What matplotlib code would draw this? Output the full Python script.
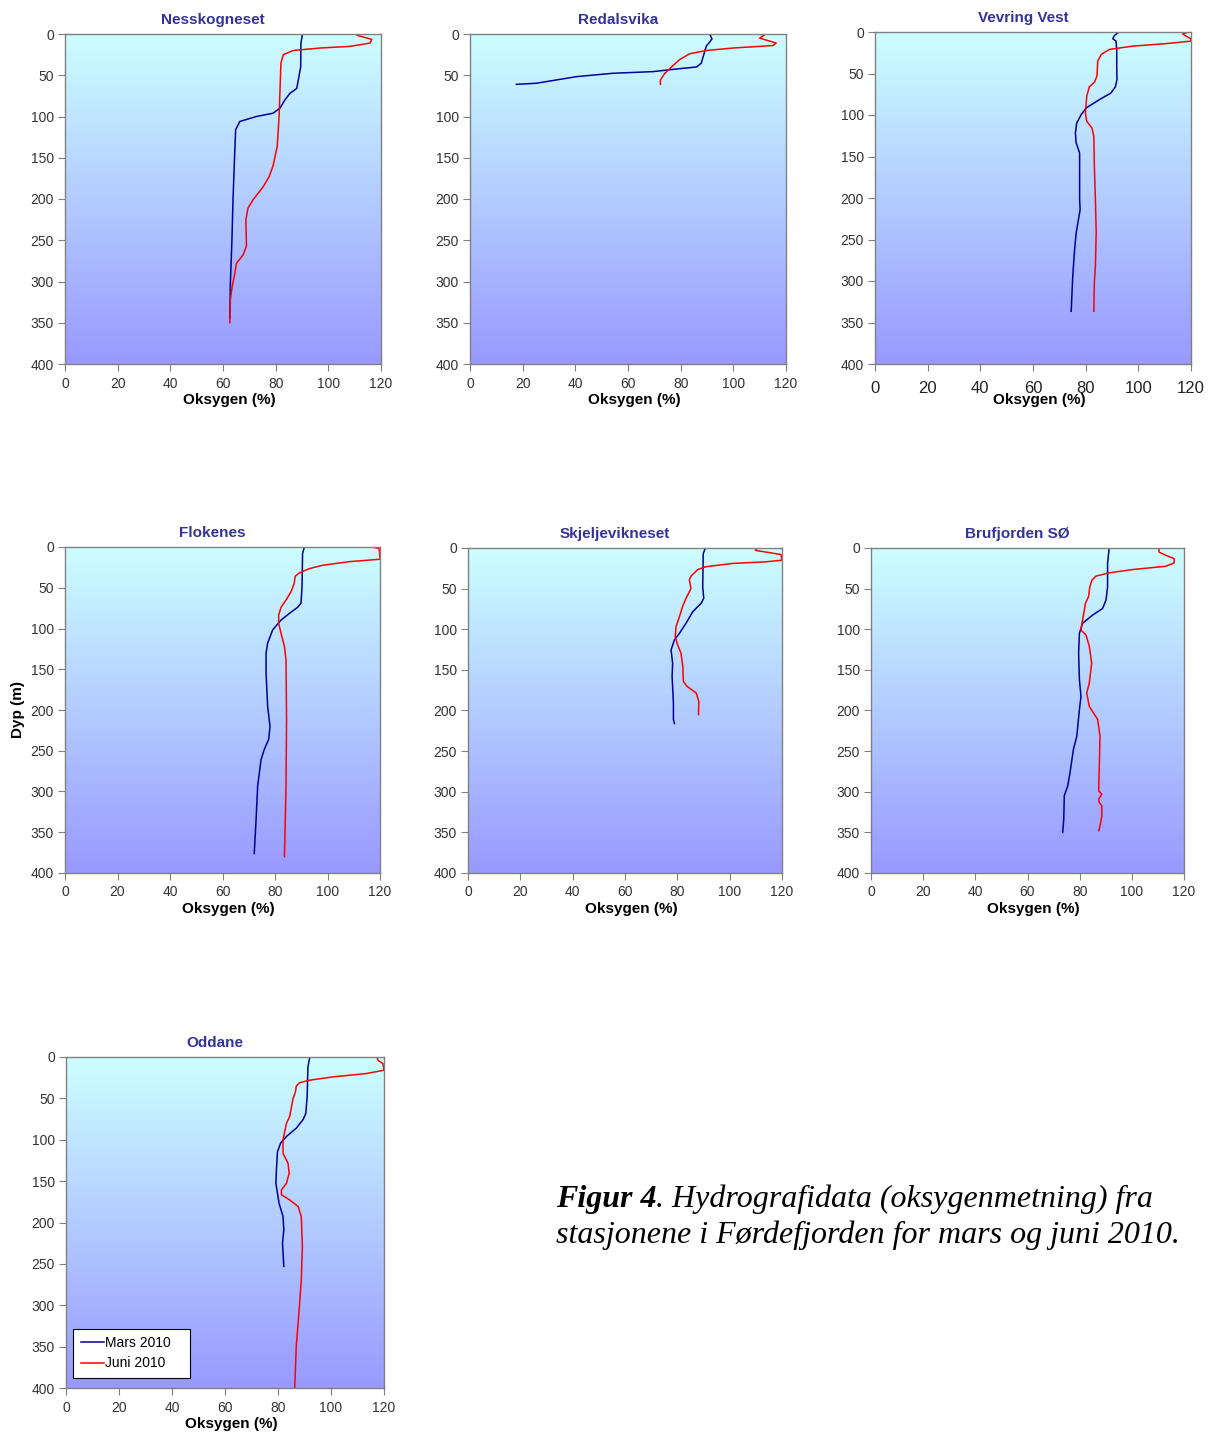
import numpy as np
import matplotlib
matplotlib.use("Agg")
import matplotlib.pyplot as plt
from matplotlib.colors import LinearSegmentedColormap

plt.rcParams['font.family'] = ['Liberation Sans', 'DejaVu Sans']

# Oksygen (%) og dyp (m), lest av figuren
# Nesskogneset
ness_mars_oks = [90.2, 89.6, 89.5, 88.0, 85.4, 83.5, 81.6, 79.0, 72.7, 66.4, 64.8, 64.5, 63.8, 63.4, 62.8, 62.6]
ness_mars_dyp = [0, 11, 40, 66, 72, 80, 90, 96, 100, 106, 116, 140, 201, 249, 302, 345]
ness_juni_oks = [110.2, 111.4, 116.5, 115.9, 108.2, 96.8, 86.7, 82.9, 82.0, 81.6, 81.3, 80.6, 79.0, 77.5, 75.3, 71.4,
                 69.5, 68.7, 68.9, 67.6, 65.1, 64.5, 63.5, 62.8, 62.6]
ness_juni_dyp = [0, 2, 6.5, 11, 15, 17, 20, 25, 35.5, 72, 100, 136, 160, 173, 185, 201,
                 211, 225, 257, 268, 278, 290, 306, 322, 350]

# Redalsvika
reda_mars_oks = [91.0, 91.9, 89.7, 87.8, 86.0, 79.6, 69.5, 54.3, 40.4, 32.8, 25.2, 17.6]
reda_mars_dyp = [0, 6, 15, 35.5, 40, 42, 45.6, 47.6, 51.7, 55.7, 59.7, 61]
reda_juni_oks = [109.7, 111.9, 110.0, 116.3, 115.0, 99.9, 89.7, 83.4, 79.6, 76.5, 73.9, 72.3, 72.3]
reda_juni_dyp = [0, 1, 5, 11, 14, 17, 20, 24, 31, 40, 48, 56, 61]

# Vevring Vest
vevr_mars_oks = [92.6, 90.9, 90.3, 91.5, 91.8, 91.8, 91.9, 91.3, 89.6, 85.2, 80.2, 78.3, 76.6, 76.1, 76.4, 77.7,
                 77.7, 77.9, 76.4, 75.8, 75.1, 74.5]
vevr_mars_dyp = [0, 4.4, 8, 11, 21, 41, 57, 66, 73.5, 81.5, 91.5, 99.6, 109.6, 121.7, 133.7, 145.8,
                 202, 214, 242, 262, 294, 336.5]
vevr_juni_oks = [119.0, 116.8, 120.0, 120.0, 110.5, 97.9, 89.0, 85.9, 84.6, 84.3, 83.3, 81.4, 80.4, 79.9, 80.4, 82.4,
                 83.1, 83.3, 83.7, 84.0, 83.7, 83.3, 83.1]
vevr_juni_dyp = [0, 2.4, 8.4, 11, 14, 17, 21, 27, 35, 53, 60.6, 66, 77.5, 97.6, 107.6, 115.7,
                 125.7, 162, 202, 242, 282, 302, 336.5]

# Flokenes
flok_mars_oks = [91.2, 90.5, 90.3, 89.9, 88.6, 85.5, 82.3, 79.1, 77.2, 76.6, 76.6, 77.2, 78.1, 77.6, 75.9, 74.7,
                 73.4, 72.8, 72.1]
flok_mars_dyp = [0, 8, 49, 69, 74, 81.5, 89.6, 101.8, 118, 130, 155, 195.5, 220, 236, 248.5, 260.7,
                 293, 334, 376]
flok_juni_oks = [117.2, 119.7, 120.0, 108.3, 98.2, 93.1, 89.3, 87.7, 87.3, 86.1, 84.2, 82.3, 81.4, 81.4, 82.3, 83.6,
                 84.2, 84.4, 84.2, 83.6]
flok_juni_dyp = [0, 2, 15, 18, 22.4, 26.5, 31.8, 35.8, 44.8, 55, 65, 74, 83.5, 93.7, 106, 122,
                 138.5, 211.8, 293, 380]

# Skjeljevikneset
skje_mars_oks = [90.7, 89.9, 89.7, 90.1, 89.1, 85.9, 83.3, 80.8, 78.9, 77.6, 78.2, 78.0, 78.5, 78.5, 78.9]
skje_mars_dyp = [0, 7, 47.8, 62, 68, 78.4, 92.7, 105, 113, 125.4, 141.8, 158, 190.8, 211, 216]
skje_juni_oks = [110.3, 109.8, 119.6, 120.0, 113.9, 101.1, 91.0, 87.8, 85.2, 84.6, 85.2, 83.3, 82.0, 80.8, 79.5, 79.2,
                 80.1, 81.4, 82.1, 82.3, 83.6, 87.2, 88.2, 88.1]
skje_juni_dyp = [0.8, 2.9, 8, 15, 17, 19, 23, 26.5, 34.7, 39, 50, 62, 72, 84.6, 96.8, 109,
                 119, 129.5, 146, 164, 170, 178.5, 188.7, 205]

# Brufjorden SØ
bruf_mars_oks = [91.3, 90.7, 90.7, 90.1, 88.8, 85.0, 81.1, 79.9, 79.6, 79.9, 80.5, 79.9, 78.9, 77.6, 76.3, 75.4,
                 74.1, 73.9, 73.5]
bruf_mars_dyp = [0, 19, 47.8, 64, 74.4, 82.5, 92.7, 105, 129.5, 162, 182.6, 199, 231.6, 248, 276.6, 293,
                 305, 334, 350]
bruf_juni_oks = [110.4, 110.4, 113.0, 116.2, 116.2, 113.0, 100.3, 91.3, 86.2, 84.7, 83.9, 83.4, 82.2, 81.8, 81.1, 80.5,
                 82.4, 83.7, 84.6, 83.7, 82.7, 83.7, 86.9, 87.8, 87.5, 87.3, 88.5, 87.3, 87.5, 88.5, 88.5, 87.8, 87.3]
bruf_juni_dyp = [0, 5, 9, 13, 18.4, 22.5, 26.5, 30.6, 34.7, 39.6, 47.8, 60, 68, 76.4, 88.6, 101,
                 107, 121, 141.8, 166, 178.5, 195, 211, 231.6, 272.5, 299, 303, 309, 313, 317.5, 330, 342, 348]

# Oddane
odda_mars_oks = [92.0, 91.3, 91.0, 90.5, 89.5, 86.9, 83.2, 81.0, 79.8, 79.4, 79.2, 80.4, 81.9, 82.2, 81.7, 82.2]
odda_mars_dyp = [0, 12, 48, 68, 75.5, 86, 96, 104, 114.5, 136.5, 152.6, 176.7, 192.8, 208.8, 225, 253]
odda_juni_oks = [117.4, 117.7, 119.6, 120.0, 113.3, 100.8, 92.0, 88.2, 86.9, 86.6, 85.7, 85.1, 84.4, 83.2, 81.9, 81.9,
                 83.8, 84.2, 83.2, 81.3, 81.3, 84.4, 87.6, 88.8, 89.2, 88.8, 87.9, 86.9, 86.3]
odda_juni_dyp = [0, 4, 8, 16, 20, 24, 28, 31, 35, 42, 50, 60, 72, 80, 100, 116.5,
                 128.5, 140.5, 152.6, 160.6, 166.6, 172.7, 180.7, 192.8, 229, 269, 309, 349, 400]

stasjoner = ["Nesskogneset", "Redalsvika", "Vevring Vest", "Flokenes", "Skjeljevikneset", "Brufjorden SØ", "Oddane"]
mars = [(ness_mars_oks, ness_mars_dyp), (reda_mars_oks, reda_mars_dyp), (vevr_mars_oks, vevr_mars_dyp),
        (flok_mars_oks, flok_mars_dyp), (skje_mars_oks, skje_mars_dyp), (bruf_mars_oks, bruf_mars_dyp),
        (odda_mars_oks, odda_mars_dyp)]
juni = [(ness_juni_oks, ness_juni_dyp), (reda_juni_oks, reda_juni_dyp), (vevr_juni_oks, vevr_juni_dyp),
        (flok_juni_oks, flok_juni_dyp), (skje_juni_oks, skje_juni_dyp), (bruf_juni_oks, bruf_juni_dyp),
        (odda_juni_oks, odda_juni_dyp)]

W, H = 1208, 1435
# plot areas in pixels: left, top, right, bottom
boxes = [(65, 34, 381, 364), (470, 34, 786, 364), (875, 32, 1191, 364),
         (65, 547, 380, 873), (468, 548, 782, 873), (871, 548, 1184, 873),
         (66, 1057, 384, 1388)]

fig = plt.figure(figsize=(W / 100, H / 100), dpi=100)
cmap = LinearSegmentedColormap.from_list("bg", ["#CCFFFF", "#9999FF"])
grad = np.linspace(0, 1, 256)[:, None]

for i, navn in enumerate(stasjoner):
    l, t, r, b = boxes[i]
    ax = fig.add_axes([l / W, 1 - b / H, (r - l) / W, (b - t) / H])
    ax.imshow(grad, extent=[0, 120, 400, 0], aspect='auto', cmap=cmap, zorder=0)
    ax.plot(mars[i][0], mars[i][1], color='#000099', lw=1.1, label='Mars 2010', zorder=2)
    ax.plot(juni[i][0], juni[i][1], color='#FF0000', lw=1.1, label='Juni 2010', zorder=2)
    ax.set_xlim(0, 120)
    ax.set_ylim(400, 0)
    ax.set_xticks(range(0, 121, 20))
    ax.set_yticks(range(0, 401, 50))
    for s in ax.spines.values():
        s.set_color('#808080')
        s.set_linewidth(1.0)
    if i == 2:
        ax.tick_params(axis='x', direction='out', length=5, color='#808080', labelsize=12,
                       labelcolor='#222222', pad=7)
    else:
        ax.tick_params(axis='x', direction='out', length=5, color='#808080', labelsize=10,
                       labelcolor='#333333', pad=4)
    ax.tick_params(axis='y', direction='out', length=5, color='#808080', labelsize=10, labelcolor='#333333', pad=3)
    ax.text((l - 10 + (r - l) / 2 - l) / (r - l), 1 + 14 / (b - t), navn, transform=ax.transAxes,
            ha='center', va='center', fontsize=11, fontweight='bold', color='#333399')
    ax.text(0.52, -36 / (b - t), "Oksygen (%)", transform=ax.transAxes,
            ha='center', va='center', fontsize=11, fontweight='bold', color='black')
    if i == 3:
        ax.text(-47 / (r - l), 0.5, "Dyp (m)", transform=ax.transAxes, rotation=90,
                ha='center', va='center', fontsize=11, fontweight='bold')
    if i == 6:
        leg = ax.legend(loc='lower left', bbox_to_anchor=(0.022, 0.03), fontsize=10, frameon=True,
                        fancybox=False, edgecolor='black', handlelength=1.7, handletextpad=0.05,
                        borderaxespad=0, borderpad=0.55, labelspacing=0.45)
        leg.get_frame().set_linewidth(0.8)
        leg.get_frame().set_alpha(1)
        for txt in leg.get_texts():
            txt.set_text(txt.get_text() + "   ")

# figure caption
t1 = fig.text(556 / W, 1 - 1207 / H, "Figur 4", family='Liberation Serif', fontsize=23,
              fontstyle='italic', fontweight='bold', va='baseline')
fig.canvas.draw()
bb = t1.get_window_extent()
fig.text(bb.x1 / W, 1 - 1207 / H, ". Hydrografidata (oksygenmetning) fra", family='Liberation Serif',
         fontsize=23, fontstyle='italic', va='baseline')
fig.text(556 / W, 1 - 1243 / H, "stasjonene i Førdefjorden for mars og juni 2010.", family='Liberation Serif',
         fontsize=23, fontstyle='italic', va='baseline')

fig.savefig("out.png", dpi=100)
